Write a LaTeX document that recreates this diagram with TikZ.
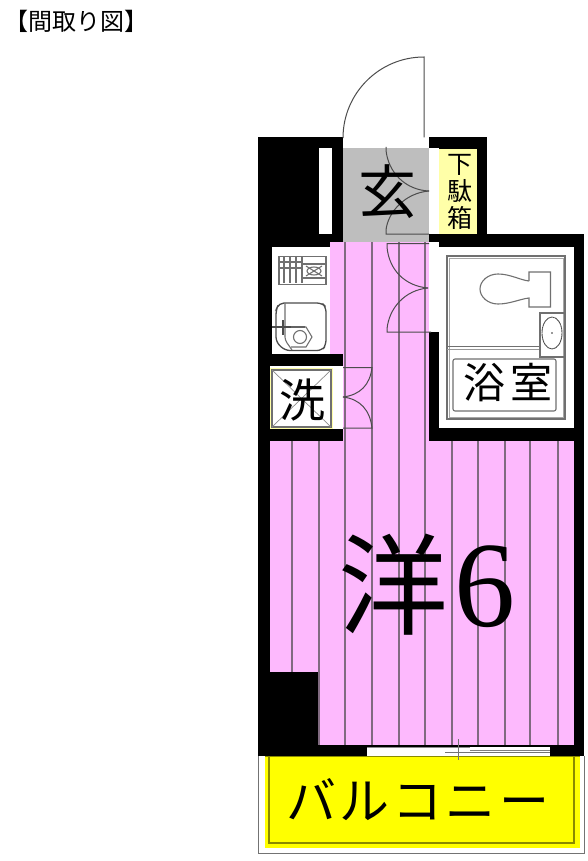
\documentclass[tikz,border=0pt]{standalone}
\usepackage{fontspec}
\setmainfont{Liberation Serif}
\newfontfamily\jp{Noto Sans CJK JP}
\newfontfamily\jpwide{Noto Sans CJK JP}[LetterSpace=7]
\newfontfamily\jpbath{Noto Sans CJK JP}[LetterSpace=14]
\definecolor{pinkroom}{HTML}{FDB9FD}
\definecolor{paleyellow}{HTML}{FFFFA8}
\definecolor{balcony}{HTML}{FFFF00}
\definecolor{balconyline}{HTML}{8A8A00}
\definecolor{floorgray}{HTML}{BEBEBE}
\definecolor{joint}{HTML}{806A80}
\definecolor{fixture}{HTML}{707070}
\tikzset{
  wall/.style={fill=black,draw=none},
  joinline/.style={draw=joint,line width=1.3pt},
  doorline/.style={draw=black!70,line width=1pt},
  fixtureline/.style={draw=fixture,line width=1.1pt},
  fixturedark/.style={draw=black!70,line width=1.3pt},
  label/.style={inner sep=0pt,text=black},
}
\newcommand{\fs}[1]{\fontsize{#1}{#1}\selectfont}
\begin{document}
\begin{tikzpicture}[x=1pt,y=-1pt]
\useasboundingbox (0,0) rectangle (588,861);
\fill[white] (0,0) rectangle (588,861);
% walls
\fill[wall] (258,137.5) rectangle (487,234);
\fill[wall] (258,234) rectangle (584,756);
% entrance
\fill[white] (343,137.5) rectangle (429,148);
\fill[floorgray] (343,148) rectangle (429,242);
\fill[white] (319,148) rectangle (332,234);
\fill[white] (429,148) rectangle (439,234);
\fill[paleyellow] (439,149) rectangle (477,234);
% pink hall and kitchen
\fill[pinkroom] (330,242) rectangle (429,354);
\fill[pinkroom] (343,354) rectangle (429,441);
\fill[white] (272,247) rectangle (330,354);
% laundry
\fill[white] (270,366) rectangle (343,429);
\fill[paleyellow] (270,368) rectangle (333,429);
\fill[white] (272,370) rectangle (331,427);
\draw[fixtureline] (272,370) rectangle (331,427);
\draw[draw=black!45,line width=0.7pt] (272,370) -- (331,427) (331,370) -- (272,427);
% bath
\fill[white] (429,242) rectangle (439,332);
\fill[white] (439,247) rectangle (574,428);
% main room
\fill[pinkroom] (270,441) rectangle (574,745);
\fill[wall] (258,672) rectangle (319,745);
% floor joints
\foreach \x in {345,372,399,425} \draw[joinline] (\x,242) -- (\x,745);
\foreach \x in {452,478,505,530,558} \draw[joinline] (\x,441) -- (\x,745);
\foreach \x in {292,319} \draw[joinline] (\x,441) -- (\x,672);
\draw[joinline] (319,672) -- (319,745);
% balcony
\fill[white] (258,756) rectangle (584,853);
\draw[draw=black!55,line width=0.9pt] (258,756) -- (258,853) -- (584,853) -- (584,756);
\fill[balcony] (265,756) rectangle (580,848);
\draw[draw=balconyline,line width=1.1pt] (269,756) -- (269,843) -- (574,843) -- (574,756);
\draw[draw=balconyline,line width=1pt] (265,756.5) -- (580,756.5);
% window
\fill[white] (367,746.5) rectangle (549.5,756);
\draw[draw=black!45,line width=1.4pt] (367,747.5) -- (470,747.5);
\draw[draw=black!50,line width=1pt] (470,750) -- (549.5,750);
\draw[draw=black!55,line width=1pt] (445,752.5) -- (549.5,752.5);
\draw[draw=black!55,line width=1pt] (458,739) -- (458,760);
% entrance door
\draw[doorline] (424,137.5) -- (424,57) arc[start angle=270,end angle=180,radius=81];
% folding door in entry
\draw[doorline] (386,147) -- (386,150) .. controls (388,172) and (405,190) .. (429,191);
\draw[doorline] (429,191) .. controls (405,193) and (388,212) .. (386,230) -- (386,234) -- (429,234);
% folding door to bath
\draw[doorline] (429,243.5) -- (387,243.5) -- (387,247) .. controls (389,270) and (405,286) .. (428,288);
\draw[doorline] (428,288) .. controls (405,290) and (389,308) .. (387,329) -- (387,332) -- (431,332);
% laundry door
\draw[doorline] (343,367.5) -- (372,367.5) .. controls (370,385) and (360,395) .. (343,397);
\draw[doorline] (343,397) .. controls (360,399) and (370,410) .. (372,428) -- (343,428);
% stove
\node[draw=fixture,line width=1.8pt,minimum width=47pt,minimum height=28pt,inner sep=0pt,anchor=north west] (stove) at (278,255.5) {};
\foreach \x in {284,290,296,302} \draw[fixtureline] (\x,256) -- (\x,283);
\foreach \y in {262,268} \draw[fixtureline] (278,\y) -- (302,\y);
\draw[fixtureline] (302,264) -- (325,264) (302,278) -- (325,278);
\draw[fixtureline] (314,271) ellipse[x radius=7,y radius=4];
\draw[fixtureline] (306,266) -- (322,276) (322,266) -- (306,276);
% sink
\draw[fixturedark,rounded corners=5pt] (279,303) -- (322,303) -- (326,307) -- (326,345) -- (322,350.5) -- (285,350.5) -- (276,342) -- (276,310) -- cycle;
\draw[fixtureline,rounded corners=3pt] (285,303) -- (285,340) -- (292,350);
\draw[fixturedark] (272,327) -- (305,327);
\draw[fixturedark] (283,320) -- (283,335);
\draw[fixtureline] (300,337) circle[radius=6.5];
\draw[fixtureline] (291,327) -- (306,327) -- (312,337) -- (306,347) -- (291,347);
% bath fixtures
\draw[fixtureline] (447,256) rectangle (565,419);
\draw[draw=black!35,line width=0.7pt] (449,258) rectangle (563,417);
\draw[fixtureline] (447,346.5) -- (540,346.5);
\draw[draw=black!40,line width=0.7pt] (447,349.5) -- (540,349.5);
\draw[fixtureline] (529,281) -- (529,272) -- (550.5,272) -- (550.5,307) -- (529,307) -- (529,298)
  .. controls (520,299) and (510,304) .. (498,304) .. controls (488,304) and (480,297) .. (480,289)
  .. controls (480,281) and (488,274) .. (498,274) .. controls (510,274) and (520,280) .. (529,281);
\draw[fixtureline] (540,313) rectangle (565,357);
\draw[fixturedark,line width=0.9pt,dash pattern=on 2pt off 0.4pt] (552,333) ellipse[x radius=10,y radius=16];
\fill[black!80] (552,333) circle[radius=0.9];
\draw[fixtureline,rounded corners=2pt] (453,359) rectangle (556,411);
% texts
\node[label,anchor=west] (title) at (4,21) {\jp\fs{24}【間取り図】};
\node[label] (genkan) at (387.5,192) {\jp\fs{58}玄};
\node[label] (geta1) at (460,165) {\jp\fs{25}下};
\node[label] (geta2) at (460,191) {\jp\fs{25}駄};
\node[label] (geta3) at (460,218) {\jp\fs{25}箱};
\node[label] (sen) at (302,400) {\jp\fs{46}洗};
\node[label] (bath) at (505,383) {\jpbath\fs{42}浴室\kern-5.9pt};
\node[label] (yo) at (393,585) {\jp\fs{110}洋};
\node[label] (six) at (485,587) {\fs{122}6};
\node[label] (veranda) at (416,800) {\jpwide\fs{50}バルコニー\kern-3.5pt};
\end{tikzpicture}
\end{document}
